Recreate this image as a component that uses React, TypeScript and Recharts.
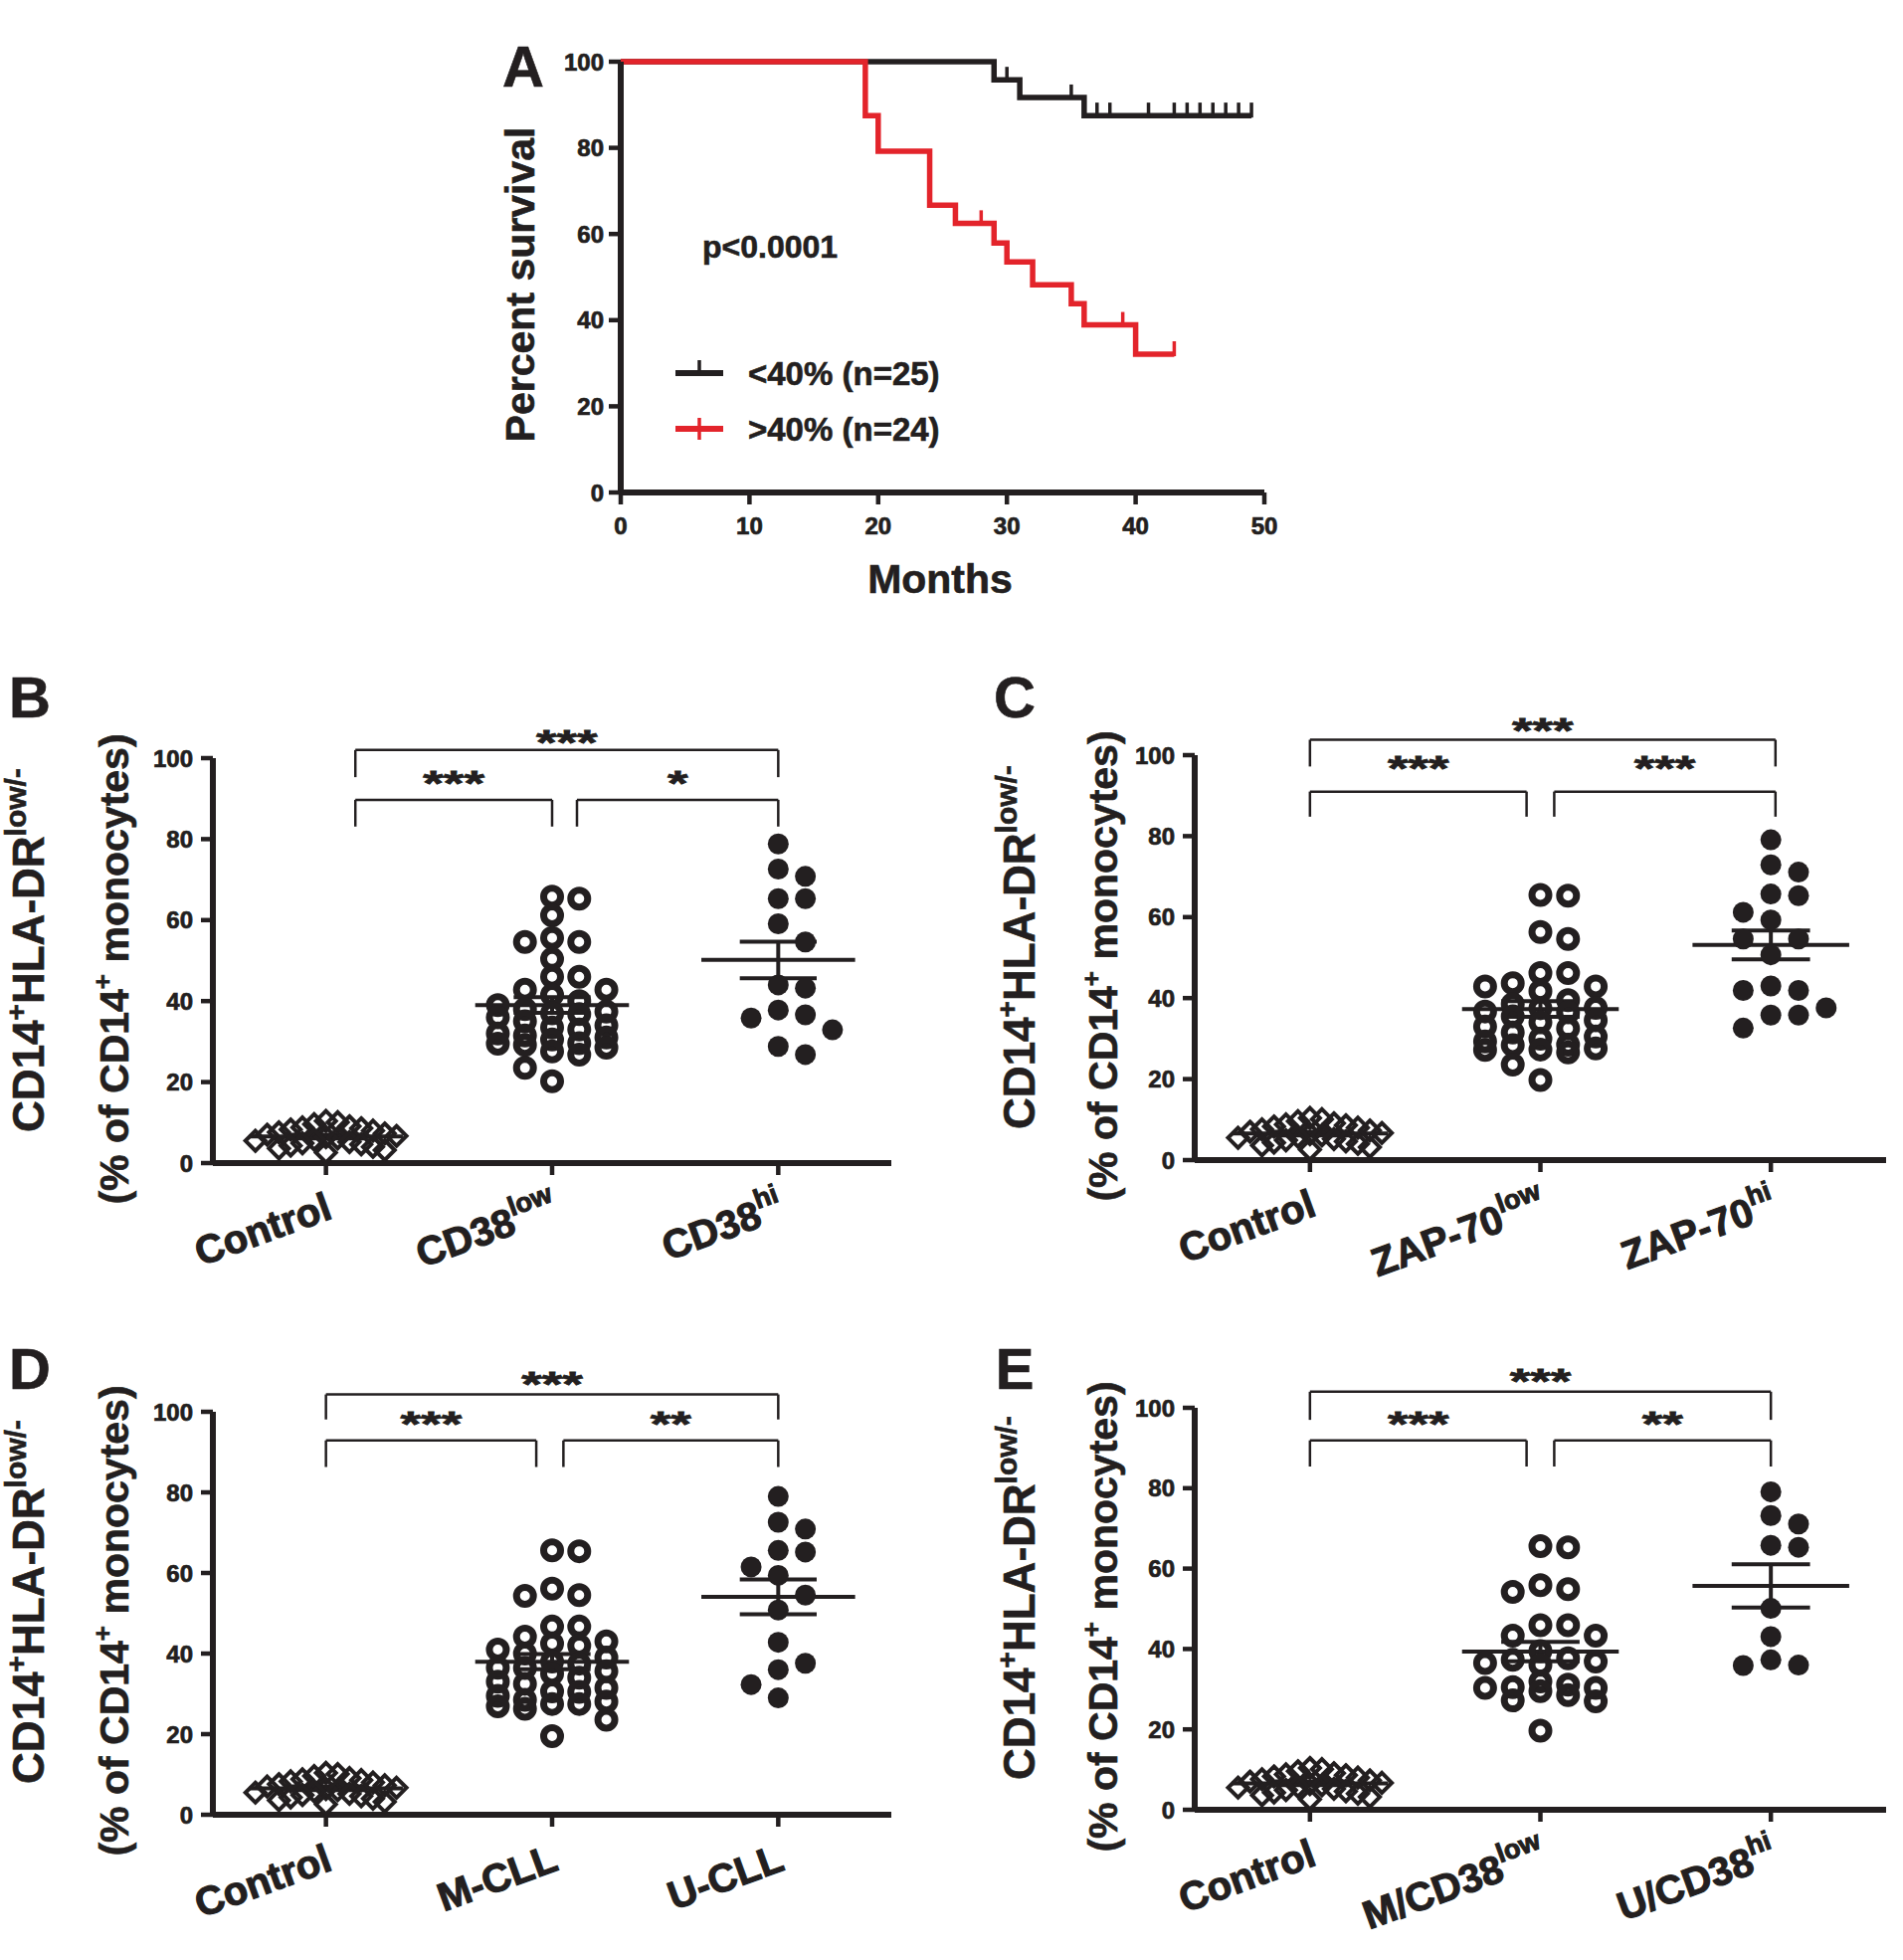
import React from 'react';
import { LineChart, Line, ScatterChart, Scatter, XAxis, YAxis, ReferenceLine, ReferenceDot } from 'recharts';

const FONT = '"Liberation Sans", Arial, Helvetica, sans-serif';
const INK = '#231f20';
const RED = '#e3242b';

// Panel A: Kaplan-Meier curves (months, percent survival, censored flag)
const lowTimes = [0, 29, 30, 31, 35, 36, 37, 38, 41, 43, 44, 45, 46, 47, 48, 49];
const lowSurvival = [100, 95.8, 95.8, 91.7, 91.7, 87.5, 87.5, 87.5, 87.5, 87.5, 87.5, 87.5, 87.5, 87.5, 87.5, 87.5];
const lowCensored = [0, 0, 1, 0, 1, 0, 1, 1, 1, 1, 1, 1, 1, 1, 1, 1];

const highTimes = [0, 19, 20, 24, 26, 28, 29, 30, 32, 35, 36, 39, 40, 43];
const highSurvival = [100, 87.5, 79.2, 66.7, 62.5, 62.5, 57.9, 53.5, 48.2, 43.8, 38.9, 38.9, 32.1, 32.1];
const highCensored = [0, 0, 0, 0, 0, 1, 0, 0, 0, 0, 0, 1, 0, 1];

const monthTicks = [0, 10, 20, 30, 40, 50];
const percentTicks = [0, 20, 40, 60, 80, 100];

// Panels B-E: % CD14+HLA-DRlow/- monocytes
const controlValues = [10.4, 10.1, 9.6, 9.1, 8.8, 8.6, 8.3, 8.0, 7.6, 7.3, 7.0, 6.7, 6.4, 6.1, 5.8, 5.5, 5.2, 4.9, 4.6, 4.3, 4.0, 3.6, 3.2, 2.6];

const cd38Low = [65.8, 65.3, 61.2, 55.6, 54.6, 54.6, 50.4, 46.0, 46.0, 42.8, 42.8, 41.5, 37.4, 36.8, 29.6, 29.2, 27.6, 26.8, 23.5, 20.2,
  40, 39, 38, 37, 36, 35, 34, 33, 32, 31, 30.5, 29.5, 28.5, 31.5, 33.5];
const cd38Hi = [78.8, 72.6, 70.8, 65.3, 65.3, 59.1, 54.6, 44.0, 43.2, 37.8, 36.6, 35.8, 32.9, 28.8, 26.8];

const zap70Low = [65.5, 65.3, 56.3, 54.6, 46.2, 46.2, 43.7, 42.9, 42.9, 41.7, 37.6, 36.7, 29.3, 28.4, 27.6, 27.2, 26.6, 23.6, 19.8,
  39.5, 38.5, 37.5, 36.5, 35.5, 34.5, 34, 33, 32.5, 31.5, 30.5, 30, 28.5, 27.3];
const zap70Hi = [79.1, 72.9, 71.1, 65.7, 65.3, 61.2, 59.3, 54.6, 54.6, 50.7, 43.0, 41.9, 41.9, 37.6, 35.8, 35.8, 32.6];

const mCll = [65.6, 65.4, 56.1, 54.5, 54.3, 46.7, 46.7, 44.2, 43.0, 42.5, 36.4, 35.6, 30.6, 28.1, 26.9, 26.3, 23.6, 19.5,
  42, 41, 40, 39, 38, 37.5, 36.5, 35, 34, 33, 32.5, 31.5, 30.5, 29.5, 28.5, 27.5, 27.5];
const uCll = [79.0, 72.6, 70.9, 65.6, 65.2, 61.5, 59.4, 54.5, 50.8, 42.8, 37.6, 36.0, 32.3, 29.0];

const mCd38Low = [65.6, 65.3, 55.9, 54.9, 54.2, 45.9, 45.9, 43.3, 43.3, 37.3, 36.9, 30.3, 30.3, 27.2, 27.0, 19.7,
  39.5, 36.1, 37.7, 36.5, 31.1, 31.9, 29.5, 30.5, 28.5];
const uCd38Hi = [79.1, 73.2, 71.1, 65.8, 65.3, 50.1, 43.1, 37.3, 35.9, 36.0];

const namesB = ['Control', 'CD38', 'CD38'];
const supsB = ['', 'low', 'hi'];
const namesC = ['Control', 'ZAP-70', 'ZAP-70'];
const supsC = ['', 'low', 'hi'];
const namesD = ['Control', 'M-CLL', 'U-CLL'];
const supsD = ['', '', ''];
const namesE = ['Control', 'M/CD38', 'U/CD38'];
const supsE = ['', 'low', 'hi'];

// significance brackets: from/to group position, bar level, drop, stars
const bracketsB = [
  { from: 1.13, to: 3, y: 102, drop: 6.7, stars: '***', starY: 106 },
  { from: 1.13, to: 2, y: 89.7, drop: 6.6, stars: '***', starY: 95.8 },
  { from: 2.11, to: 3, y: 89.7, drop: 6.6, stars: '*', starY: 95.8 },
];
const bracketsC = [
  { from: 1, to: 3.02, y: 103.8, drop: 6.6, stars: '***', starY: 108 },
  { from: 1, to: 1.94, y: 91, drop: 6.2, stars: '***', starY: 98.8 },
  { from: 2.06, to: 3.02, y: 91, drop: 6.2, stars: '***', starY: 98.8 },
];
const bracketsD = [
  { from: 1, to: 3, y: 104.3, drop: 6.2, stars: '***', starY: 109 },
  { from: 1, to: 1.93, y: 92.9, drop: 6.6, stars: '***', starY: 99 },
  { from: 2.05, to: 3, y: 92.9, drop: 6.6, stars: '**', starY: 99 },
];
const bracketsE = [
  { from: 1, to: 3, y: 104, drop: 7, stars: '***', starY: 108.7 },
  { from: 1, to: 1.94, y: 91.9, drop: 6.5, stars: '***', starY: 98 },
  { from: 2.06, to: 3, y: 91.9, drop: 6.5, stars: '**', starY: 98 },
];

// GraphPad-like column scatter: spread close values sideways
function swarm(values: number[], center: number, step: number, gap: number, maxSlot: number) {
  const order: number[] = [0];
  for (let k = 1; k <= maxSlot; k++) order.push(k, -k);
  const placed: { s: number; v: number }[] = [];
  return [...values].sort((a, b) => b - a).map((v) => {
    let best = 0;
    let bestGap = -1;
    for (const s of order) {
      const near = placed.filter((p) => p.s === s).map((p) => Math.abs(p.v - v));
      const g = near.length ? Math.min(...near) : Infinity;
      if (g >= gap) { best = s; break; }
      if (g > bestGap) { bestGap = g; best = s; }
    }
    placed.push({ s: best, v });
    return { x: center + best * step, y: v };
  });
}

function meanSem(vals: number[]) {
  const n = vals.length;
  const m = vals.reduce((a, b) => a + b, 0) / n;
  const sd = Math.sqrt(vals.reduce((a, b) => a + (b - m) * (b - m), 0) / (n - 1));
  return { m, sem: sd / Math.sqrt(n) };
}

const diamond = (p: any) => (
  <path d={`M${p.cx},${p.cy - 10}L${p.cx + 10},${p.cy}L${p.cx},${p.cy + 10}L${p.cx - 10},${p.cy}Z`} fill="none" stroke={INK} strokeWidth={4} />
);
const ring = (p: any) => <circle cx={p.cx} cy={p.cy} r={8.5} fill="none" stroke={INK} strokeWidth={7} />;
const disc = (p: any) => <circle cx={p.cx} cy={p.cy} r={10.5} fill={INK} />;
const shapes = [diamond, ring, disc];
const swarmOpts = [
  { step: 0.052, gap: 3.8, max: 6 },
  { step: 0.12, gap: 4.2, max: 2 },
  { step: 0.12, gap: 5.5, max: 2 },
];

const CatTick = (p: any) => {
  const i = Math.round(p.payload.value) - 1;
  const name = p.names[i];
  const sup = p.sups[i];
  return (
    <g transform={`translate(${p.x + 8},${p.y + 41})`}>
      <text transform="rotate(-20)" textAnchor="end" fill={INK} stroke={INK} strokeWidth={1.1}
        fontFamily={FONT} fontWeight={700} fontSize={40}>
        {name}
        {sup ? <tspan fontSize={27} dy={-18}>{sup}</tspan> : null}
      </text>
    </g>
  );
};

const axisStyle = { stroke: INK, strokeWidth: 6 };
const tickLineStyle = { stroke: INK, strokeWidth: 4.5 };
const tickFont = { fill: INK, stroke: INK, strokeWidth: 0.7, fontSize: 24, fontWeight: 700, fontFamily: FONT };

function ScatterPanel({ cfg }: { cfg: any }) {
  const { box, plot, groups, names, sups, brackets } = cfg;
  const yw = 60;
  const xh = 100;
  const margin = {
    left: plot.l - box.x - yw,
    right: box.x + box.w - plot.r,
    top: plot.t - box.y,
    bottom: box.y + box.h - plot.b - xh,
  };
  const series = groups.map((vals: number[], i: number) => swarm(vals, i + 1, swarmOpts[i].step, swarmOpts[i].gap, swarmOpts[i].max));
  const stats = groups.map((vals: number[]) => meanSem(vals));
  const seg = (x1: number, y1: number, x2: number, y2: number, w: number, key: string) => (
    <ReferenceLine key={key} segment={[{ x: x1, y: y1 }, { x: x2, y: y2 }]} stroke={INK} strokeWidth={w} ifOverflow="visible" />
  );
  return (
    <div style={{ position: 'absolute', left: box.x, top: box.y }}>
      <ScatterChart width={box.w} height={box.h} margin={margin}>
        <XAxis type="number" dataKey="x" domain={[0.5, 3.5]} ticks={[1, 2, 3]} interval={0} height={xh}
          axisLine={axisStyle} tickLine={tickLineStyle} tickSize={12}
          tick={(p: any) => <CatTick {...p} names={names} sups={sups} />} allowDataOverflow />
        <YAxis type="number" dataKey="y" domain={[0, 100]} ticks={percentTicks} width={yw}
          axisLine={axisStyle} tickLine={tickLineStyle} tickSize={12} tickMargin={8}
          tick={tickFont} allowDataOverflow />
        {series.map((d: any, i: number) => (
          <Scatter key={`s${i}`} data={d} shape={shapes[i]} isAnimationActive={false} />
        ))}
        {stats.map((s: any, i: number) => [
          seg(i + 1 - 0.34, s.m, i + 1 + 0.34, s.m, 4, `m${i}`),
          seg(i + 1 - 0.17, s.m + s.sem, i + 1 + 0.17, s.m + s.sem, 4, `u${i}`),
          seg(i + 1 - 0.17, s.m - s.sem, i + 1 + 0.17, s.m - s.sem, 4, `l${i}`),
          seg(i + 1, s.m - s.sem, i + 1, s.m + s.sem, 4, `v${i}`),
        ])}
        {brackets.map((b: any, i: number) => [
          seg(b.from, b.y, b.to, b.y, 2.5, `bh${i}`),
          seg(b.from, b.y, b.from, b.y - b.drop, 2.5, `bl${i}`),
          seg(b.to, b.y, b.to, b.y - b.drop, 2.5, `br${i}`),
          <ReferenceDot key={`bs${i}`} x={(b.from + b.to) / 2} y={b.starY} r={0} ifOverflow="visible"
            shape={(p: any) => (
              <g transform={`translate(${p.cx},${p.cy}) scale(1.2,0.8)`}>
                <text x={0} y={25} textAnchor="middle" fill={INK} stroke={INK} strokeWidth={1}
                  fontFamily={FONT} fontWeight={700} fontSize={44}>{b.stars}</text>
              </g>
            )} />,
        ])}
      </ScatterChart>
    </div>
  );
}

const censorDot = (color: string) => (p: any) => {
  if (!p.payload || !p.payload.c) return <g key={`n${p.index}`} />;
  return <line key={`c${p.index}`} x1={p.cx} x2={p.cx} y1={p.cy - 13} y2={p.cy + 2} stroke={color} strokeWidth={3.5} />;
};

function SurvivalPanel() {
  const box = { x: 440, y: 20, w: 880, h: 600 };
  const plot = { l: 624, r: 1271, t: 62, b: 495 };
  const yw = 60;
  const xh = 60;
  const lowData = lowTimes.map((t, i) => ({ x: t, y: lowSurvival[i], c: lowCensored[i] }));
  const highData = highTimes.map((t, i) => ({ x: t, y: highSurvival[i], c: highCensored[i] }));
  return (
    <div style={{ position: 'absolute', left: box.x, top: box.y }}>
      <LineChart width={box.w} height={box.h}
        margin={{ left: plot.l - box.x - yw, right: box.x + box.w - plot.r, top: plot.t - box.y, bottom: box.y + box.h - plot.b - xh }}>
        <XAxis type="number" dataKey="x" domain={[0, 50]} ticks={monthTicks} height={xh}
          axisLine={axisStyle} tickLine={tickLineStyle} tickSize={12} tickMargin={13} tick={tickFont} />
        <YAxis type="number" dataKey="y" domain={[0, 100]} ticks={percentTicks} width={yw}
          axisLine={axisStyle} tickLine={tickLineStyle} tickSize={12} tickMargin={5} tick={tickFont} />
        <Line data={lowData} dataKey="y" type="stepAfter" stroke={INK} strokeWidth={5.5}
          dot={censorDot(INK)} activeDot={false} isAnimationActive={false} />
        <Line data={highData} dataKey="y" type="stepAfter" stroke={RED} strokeWidth={5.5}
          dot={censorDot(RED)} activeDot={false} isAnimationActive={false} />
      </LineChart>
    </div>
  );
}

const panelB = { box: { x: 0, y: 640, w: 930, h: 680 }, plot: { l: 214, r: 896, t: 762, b: 1169 }, groups: [controlValues, cd38Low, cd38Hi], names: namesB, sups: supsB, brackets: bracketsB };
const panelC = { box: { x: 960, y: 640, w: 953, h: 680 }, plot: { l: 1201, r: 1896, t: 759, b: 1166 }, groups: [controlValues, zap70Low, zap70Hi], names: namesC, sups: supsC, brackets: bracketsC };
const panelD = { box: { x: 0, y: 1300, w: 930, h: 670 }, plot: { l: 214, r: 896, t: 1419, b: 1824 }, groups: [controlValues, mCll, uCll], names: namesD, sups: supsD, brackets: bracketsD };
const panelE = { box: { x: 960, y: 1300, w: 953, h: 670 }, plot: { l: 1201, r: 1896, t: 1415, b: 1819 }, groups: [controlValues, mCd38Low, uCd38Hi], names: namesE, sups: supsE, brackets: bracketsE };

const YTitle = ({ x1, x2, cy }: { x1: number; x2: number; cy: number }) => (
  <g>
    <text transform={`translate(${x1},${cy - 11}) rotate(-90)`} textAnchor="middle" fontSize={44}>
      CD14<tspan fontSize={28} dy={-18}>+</tspan><tspan dy={18}>HLA-DR</tspan><tspan fontSize={30} dy={-18}>low/-</tspan>
    </text>
    <text transform={`translate(${x2},${cy + 8}) rotate(-90)`} textAnchor="middle" fontSize={41}>
      (% of CD14<tspan fontSize={26} dy={-17}>+</tspan><tspan dy={17}> monocytes)</tspan>
    </text>
  </g>
);

export default function App() {
  return (
    <div style={{ position: 'absolute', left: 0, top: 0, width: 1913, height: 1970, background: '#fff', overflow: 'hidden' }}>
      <SurvivalPanel />
      <ScatterPanel cfg={panelB} />
      <ScatterPanel cfg={panelC} />
      <ScatterPanel cfg={panelD} />
      <ScatterPanel cfg={panelE} />
      <svg width={1913} height={1970} style={{ position: 'absolute', left: 0, top: 0, pointerEvents: 'none' }}
        fontFamily={FONT} fontWeight={700} fill={INK} stroke={INK} strokeWidth={0.6}>
        <text x={526} y={87} fontSize={58} textAnchor="middle">A</text>
        <text transform="translate(537,286) rotate(-90)" fontSize={41} textAnchor="middle">Percent survival</text>
        <text x={945} y={596} fontSize={41} textAnchor="middle">Months</text>
        <text x={706} y={259} fontSize={32}>p&lt;0.0001</text>
        <line x1={679} x2={727} y1={375} y2={375} stroke={INK} strokeWidth={6} />
        <line x1={703} x2={703} y1={362} y2={375} stroke={INK} strokeWidth={3.5} />
        <text x={752} y={387} fontSize={33}>&lt;40% (n=25)</text>
        <line x1={679} x2={727} y1={431} y2={431} stroke={RED} strokeWidth={6} />
        <line x1={703} x2={703} y1={420} y2={442} stroke={RED} strokeWidth={3.5} />
        <text x={752} y={443} fontSize={33}>&gt;40% (n=24)</text>

        <text x={30} y={721} fontSize={58} textAnchor="middle">B</text>
        <text x={1020} y={721} fontSize={58} textAnchor="middle">C</text>
        <text x={30} y={1396} fontSize={58} textAnchor="middle">D</text>
        <text x={1020} y={1396} fontSize={58} textAnchor="middle">E</text>
        <YTitle x1={44} x2={129} cy={966} />
        <YTitle x1={1040} x2={1123} cy={963} />
        <YTitle x1={44} x2={129} cy={1621} />
        <YTitle x1={1040} x2={1123} cy={1617} />
      </svg>
    </div>
  );
}
